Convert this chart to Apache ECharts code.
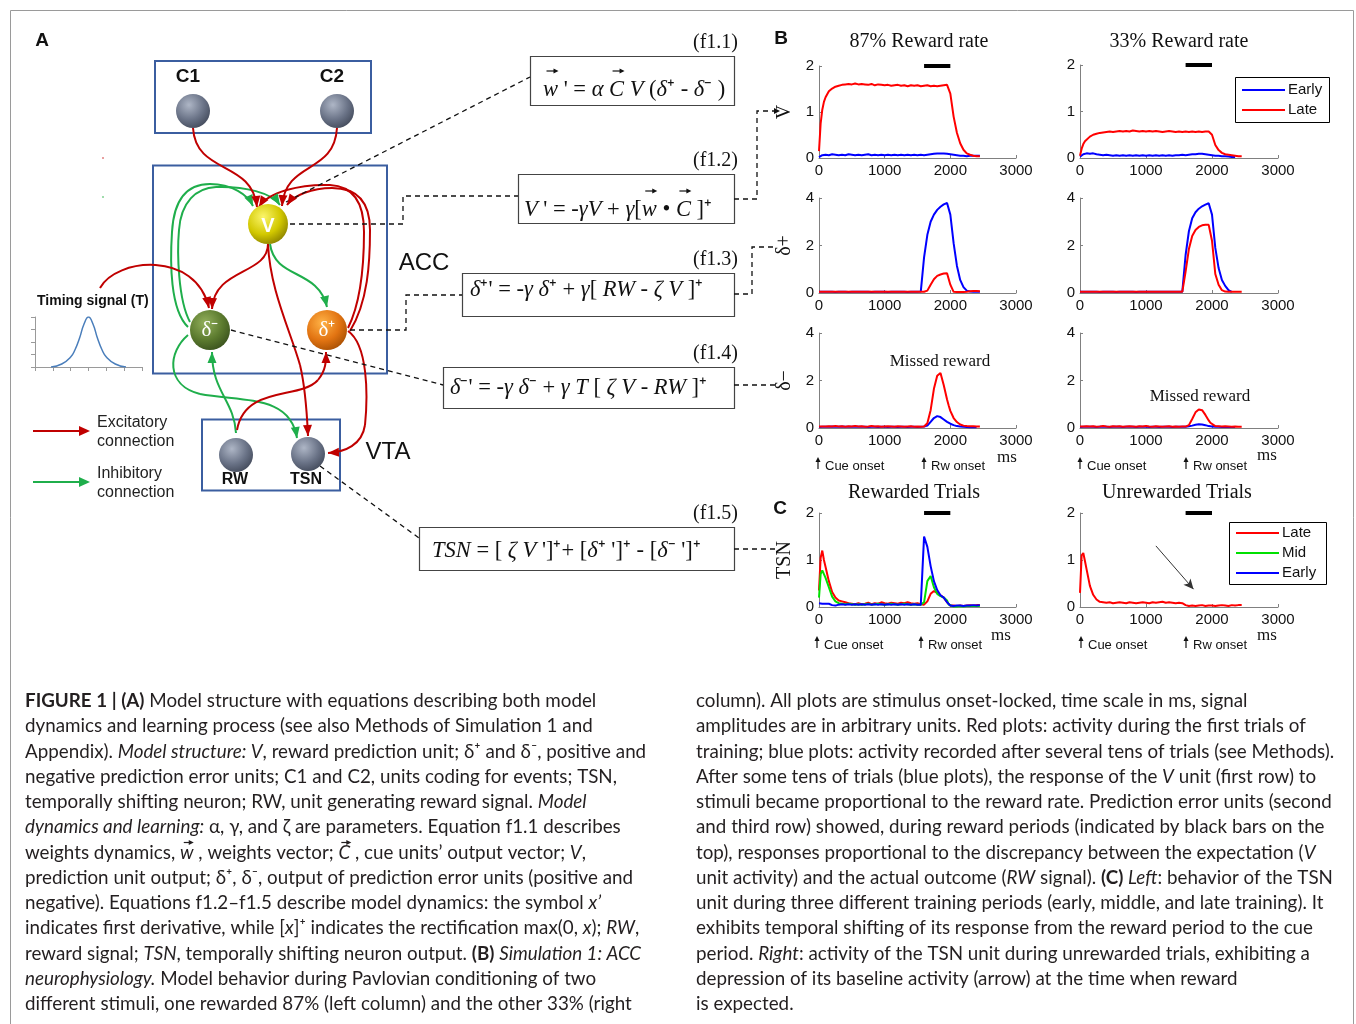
<!DOCTYPE html>
<html><head><meta charset="utf-8">
<script src="https://cdn.jsdelivr.net/npm/echarts@6/dist/echarts.min.js"></script>
<style>html,body{margin:0;padding:0;background:#fff}#c{width:1356px;height:1024px}</style>
</head><body><div id="c"></div>
<script>
// ---------------- DATA ----------------
const TIME = [0,25,50,75,100,
  150,200,250,300,350,400,450,500,550,600,
  650,700,750,800,850,900,950,1000,1050,1100,
  1150,1200,1250,1300,1350,1400,1450,1500,1550,
  1600,1650,1700,1750,1800,1850,1900,1950,1975,
  2000,2050,2100,2150,2200,2250,2300,2350,2400,2450];

const V87_LATE = [0.15,0.75,1.05,1.22,1.32,
  1.45,1.51,1.55,1.57,1.59,1.60,1.61,1.60,1.62,1.60,
  1.61,1.60,1.59,1.61,1.58,1.60,1.59,1.58,1.59,1.57,
  1.58,1.59,1.57,1.58,1.56,1.58,1.57,1.58,1.56,
  1.57,1.58,1.56,1.57,1.56,1.57,1.58,1.59,1.62,
  1.40,0.90,0.55,0.32,0.18,0.10,0.07,0.05,0.04,0.04];
const V87_EARLY = [0.02,0.05,0.06,0.06,0.07,
  0.06,0.08,0.07,0.06,0.07,0.06,0.08,0.07,0.06,0.07,
  0.06,0.07,0.08,0.06,0.07,0.06,0.07,0.06,0.07,0.06,
  0.07,0.06,0.07,0.06,0.07,0.06,0.07,0.06,0.07,
  0.06,0.07,0.08,0.09,0.10,0.10,0.10,0.09,0.09,
  0.08,0.07,0.06,0.05,0.05,0.04,0.05,0.05,0.05,0.05];
const V33_LATE = [0.05,0.20,0.30,0.36,0.40,
  0.46,0.50,0.52,0.54,0.55,0.56,0.57,0.56,0.57,0.58,
  0.57,0.58,0.57,0.59,0.58,0.57,0.58,0.57,0.58,0.57,
  0.58,0.57,0.56,0.57,0.58,0.57,0.56,0.57,0.56,
  0.57,0.56,0.57,0.56,0.57,0.56,0.57,0.57,0.58,
  0.50,0.28,0.17,0.11,0.08,0.07,0.06,0.05,0.04,0.04];
const V33_EARLY = [0.03,0.06,0.08,0.09,0.10,
  0.09,0.10,0.08,0.07,0.06,0.07,0.06,0.05,0.06,0.05,
  0.06,0.05,0.06,0.05,0.06,0.05,0.06,0.05,0.06,0.05,
  0.06,0.05,0.06,0.05,0.06,0.05,0.06,0.06,0.07,
  0.06,0.07,0.08,0.08,0.09,0.09,0.08,0.07,0.07,
  0.06,0.05,0.05,0.04,0.04,0.03,0.02,0.02,null,null];

const DP87_EARLY = [0.05,0.05,0.05,0.05,0.05,
  0.05,0.05,0.04,0.05,0.05,0.05,0.04,0.05,0.05,0.05,
  0.05,0.05,0.05,0.04,0.05,0.05,0.05,0.05,0.04,0.05,
  0.05,0.05,0.05,0.05,0.04,0.05,0.05,0.05,0.06,
  1.50,2.45,3.00,3.30,3.50,3.63,3.73,3.79,3.81,
  3.30,2.10,1.15,0.55,0.25,0.10,0.06,0.05,0.05,0.05];
const DP87_LATE = [0.05,0.05,0.05,0.05,0.05,
  0.05,0.05,0.05,0.05,0.05,0.05,0.05,0.05,0.05,0.05,
  0.05,0.05,0.05,0.05,0.05,0.05,0.05,0.05,0.05,0.05,
  0.05,0.05,0.05,0.05,0.05,0.05,0.05,0.05,0.05,
  0.05,0.10,0.35,0.58,0.72,0.78,0.82,0.83,0.83,
  0.35,0.05,0.04,0.04,0.04,0.05,0.07,0.08,0.08,0.07];
const DP33_EARLY = [0.05,0.05,0.05,0.05,0.05,
  0.05,0.05,0.05,0.04,0.05,0.05,0.05,0.05,0.04,0.05,
  0.05,0.05,0.05,0.05,0.04,0.05,0.05,0.05,0.05,0.05,
  0.05,0.05,0.05,0.05,0.05,0.05,0.05,0.05,0.05,
  1.60,2.60,3.15,3.40,3.55,3.65,3.72,3.78,3.80,
  3.30,1.90,1.05,0.55,0.30,0.12,0.05,null,null,null];
const DP33_LATE = [0.05,0.05,0.05,0.05,0.05,
  0.05,0.05,0.05,0.05,0.05,0.05,0.05,0.05,0.05,0.05,
  0.05,0.05,0.05,0.05,0.05,0.05,0.05,0.05,0.05,0.05,
  0.05,0.05,0.05,0.05,0.05,0.05,0.05,0.05,0.05,
  0.90,1.85,2.40,2.65,2.78,2.85,2.87,2.87,2.85,
  2.20,0.80,0.35,0.12,0.06,0.05,0.05,0.05,0.05,0.05];

const DM87_LATE = [0.06,0.07,0.06,0.08,0.06,
  0.07,0.06,0.08,0.06,0.07,0.05,0.07,0.06,0.08,0.06,
  0.07,0.05,0.06,0.08,0.06,0.07,0.05,0.06,0.07,0.06,
  0.05,0.07,0.06,0.05,0.06,0.07,0.05,0.06,0.05,
  0.06,0.20,0.75,1.65,2.20,2.32,1.80,1.20,0.95,
  0.72,0.42,0.25,0.15,0.10,0.08,0.07,0.07,0.06,0.06];
const DM87_EARLY = [0.04,0.05,0.05,0.05,0.05,
  0.05,0.06,0.05,0.05,0.06,0.05,0.05,0.05,0.06,0.05,
  0.05,0.05,0.04,0.05,0.05,0.04,0.05,0.05,0.04,0.05,
  0.05,0.04,0.05,0.05,0.04,0.05,0.05,0.04,0.05,
  0.06,0.10,0.26,0.42,0.50,0.46,0.36,0.26,0.22,
  0.18,0.12,0.08,0.06,0.05,0.04,0.03,0.03,0.03,null];
const DM33_LATE = [0.06,0.07,0.06,0.05,0.07,
  0.06,0.07,0.05,0.06,0.08,0.06,0.05,0.07,0.06,0.07,
  0.05,0.06,0.07,0.06,0.05,0.07,0.06,0.08,0.06,0.05,
  0.07,0.06,0.05,0.06,0.07,0.05,0.06,0.05,0.06,
  0.06,0.12,0.38,0.66,0.78,0.75,0.55,0.32,0.22,
  0.14,0.08,0.07,0.06,0.07,0.06,0.05,0.06,0.05,0.05];
const DM33_EARLY = [0.04,0.05,0.05,0.05,0.05,
  0.05,0.05,0.04,0.05,0.05,0.05,0.04,0.05,0.05,0.05,
  0.04,0.05,0.05,0.05,0.04,0.05,0.05,0.05,0.04,0.05,
  0.05,0.04,0.05,0.05,0.05,0.04,0.05,0.05,0.05,
  0.05,0.07,0.10,0.14,0.16,0.15,0.12,0.08,0.07,
  0.06,0.05,0.05,0.04,0.04,0.04,0.04,0.04,null,null];

const TSN_REW_LATE = [0.35,1.05,1.20,1.00,0.85,
  0.55,0.32,0.20,0.14,0.12,0.10,0.08,0.07,0.06,0.08,
  0.06,0.07,0.09,0.06,0.08,0.07,0.10,0.08,0.07,0.09,
  0.08,0.07,0.09,0.08,0.10,0.08,0.07,0.08,0.06,
  0.05,0.12,0.28,0.34,0.30,0.25,0.20,0.10,0.06,
  0.03,0.03,0.02,0.03,0.02,0.03,0.04,0.03,0.04,0.04];
const TSN_REW_MID = [0.20,0.70,0.78,0.75,0.62,
  0.42,0.22,0.12,0.08,0.07,0.06,0.07,0.06,0.05,0.06,
  0.05,0.06,0.07,0.05,0.06,0.07,0.06,0.05,0.06,0.07,
  0.06,0.05,0.06,0.07,0.06,0.05,0.06,0.05,0.05,
  0.10,0.55,0.66,0.42,0.28,0.23,0.20,0.14,0.05,
  0.01,0.01,0.01,0.02,0.01,0.02,0.02,0.02,0.02,0.02];
const TSN_REW_EARLY = [0.08,0.08,0.07,0.08,0.07,
  0.07,0.04,0.03,0.05,0.06,0.05,0.06,0.05,0.06,0.05,
  0.06,0.05,0.06,0.05,0.06,0.05,0.06,0.05,0.06,0.05,
  0.06,0.05,0.06,0.05,0.06,0.05,0.06,0.05,0.05,
  1.50,1.28,0.87,0.55,0.36,0.25,0.20,0.10,0.06,
  0.03,0.02,0.03,0.03,0.02,0.03,0.03,0.04,0.03,0.04];
const TSN_UNREW_LATE = [0.30,1.10,1.15,0.98,0.80,
  0.45,0.26,0.16,0.11,0.10,0.09,0.10,0.08,0.09,0.10,
  0.09,0.08,0.10,0.09,0.08,0.09,0.10,0.09,0.08,0.10,
  0.09,0.10,0.11,0.09,0.10,0.09,0.08,0.09,0.08,
  0.04,0.02,0.03,0.02,0.03,0.04,0.02,0.03,0.02,
  0.03,0.02,0.03,0.04,0.03,0.02,0.04,0.03,0.04,0.04];

const REWARD_BAR_X = [1600, 2000];
const X_TICKS = [0, 1000, 2000, 3000];
const ARROW_FROM = [1150, 1.3], ARROW_TO = [1720, 0.38];

const GAUSS_X = [0.9,1.5,2,2.25,2.5,2.75,3,3.25,3.5,3.75,4,4.5,5.1];
const GAUSS_Y = [0,0.06,0.2,0.35,0.58,0.86,1,0.86,0.58,0.35,0.2,0.06,0];

const PLOT_TITLES = ['87% Reward rate','33% Reward rate','Rewarded Trials','Unrewarded Trials'];
const LEGEND_B = ['Early','Late'];
const LEGEND_C = ['Late','Mid','Early'];

// {v|..} = italic letter carrying a vector arrow
const EQUATIONS = [
  "{v|w}{n| ' = }{i|α }{v|C}{i| V }{n|(}{i|δ}{n|⁺ - }{i|δ}{n|⁻ )}",
  "{i|V}{n| ' = -}{i|γV}{n| + }{i|γ}{n|[}{v|w}{n| • }{v|C}{n| ]⁺}",
  "{i|δ}{n|⁺' = -}{i|γ δ}{n|⁺ + }{i|γ}{n|[ }{i|RW}{n| - }{i|ζ V}{n| ]⁺}",
  "{i|δ}{n|⁻' = -}{i|γ δ}{n|⁻ + }{i|γ T}{n| [ }{i|ζ V}{n| - }{i|RW}{n| ]⁺}",
  "{i|TSN}{n| = [ }{i|ζ V}{n| ']⁺+ [}{i|δ}{n|⁺ ']⁺ - [}{i|δ}{n|⁻ ']⁺}"
];
const EQ_LABELS = ['(f1.1)','(f1.2)','(f1.3)','(f1.4)','(f1.5)'];

const CAPTION_LEFT = [
"{b|FIGURE 1 | (A)} Model structure with equations describing both model",
"dynamics and learning process (see also Methods of Simulation 1 and",
"Appendix). {i|Model structure: V}, reward prediction unit; δ⁺ and δ⁻, positive and",
"negative prediction error units; C1 and C2, units coding for events; TSN,",
"temporally shifting neuron; RW, unit generating reward signal. {i|Model}",
"{i|dynamics and learning:} α, γ, and ζ are parameters. Equation f1.1 describes",
"weights dynamics, {v|w} , weights vector; {v|C} , cue units’ output vector; {i|V},",
"prediction unit output; δ⁺, δ⁻, output of prediction error units (positive and",
"negative). Equations f1.2–f1.5 describe model dynamics: the symbol {i|x’}",
"indicates first derivative, while [{i|x}]⁺ indicates the rectification max(0, {i|x}); {i|RW},",
"reward signal; {i|TSN}, temporally shifting neuron output. {b|(B)} {i|Simulation 1: ACC}",
"{i|neurophysiology.} Model behavior during Pavlovian conditioning of two",
"different stimuli, one rewarded 87% (left column) and the other 33% (right"
];
const CAPTION_RIGHT = [
"column). All plots are stimulus onset-locked, time scale in ms, signal",
"amplitudes are in arbitrary units. Red plots: activity during the first trials of",
"training; blue plots: activity recorded after several tens of trials (see Methods).",
"After some tens of trials (blue plots), the response of the {i|V} unit (first row) to",
"stimuli became proportional to the reward rate. Prediction error units (second",
"and third row) showed, during reward periods (indicated by black bars on the",
"top), responses proportional to the discrepancy between the expectation ({i|V}",
"unit activity) and the actual outcome ({i|RW} signal). {b|(C)} {i|Left}: behavior of the TSN",
"unit during three different training periods (early, middle, and late training). It",
"exhibits temporal shifting of its response from the reward period to the cue",
"period. {i|Right}: activity of the TSN unit during unrewarded trials, exhibiting a",
"depression of its baseline activity (arrow) at the time when reward",
"is expected."
];

// ---------------- STYLE ----------------
const SANS = '"Liberation Sans", Arial, sans-serif';
const SERIF = '"Liberation Serif", "Times New Roman", serif';
const CAPF = 'Lato, "Open Sans", sans-serif';
const CAP_SIZE = 18.8, EQ_SIZE = 22.5;
const RED = '#ff0000', BLUE = '#0000ff', GREEN = '#00e000';
const DRED = '#c00000', DGRN = '#1fae4b', BOXBLUE = '#3b5ea0';

const chart = echarts.init(document.getElementById('c'), null, {renderer:'canvas'});

const GRIDS = [
  {left:819, top:66, width:197, height:92},
  {left:1080, top:65, width:198, height:93},
  {left:819, top:198, width:197, height:95},
  {left:1080, top:198, width:198, height:95},
  {left:819, top:333, width:197, height:95},
  {left:1080, top:333, width:198, height:95},
  {left:819, top:513, width:197, height:94},
  {left:1080, top:513, width:198, height:94},
  {left:35, top:317, width:107, height:50}
];
const YMAX = [2,2,4,4,4,4,2,2];
const YINT = [1,1,2,2,2,2,1,1];
const YNAME = ['V','','δ+','','δ−','','TSN',''];

const xAxes = [], yAxes = [];
for (let i = 0; i < 8; i++) {
  xAxes.push({gridIndex:i, type:'value', min:X_TICKS[0], max:X_TICKS[3], interval:1000,
    axisLine:{lineStyle:{color:'#808080', width:1}},
    axisTick:{inside:true, length:3, lineStyle:{color:'#808080'}},
    axisLabel:{color:'#111', fontFamily:SANS, fontSize:15, margin:5, formatter:v => String(v)},
    splitLine:{show:false}});
  yAxes.push({gridIndex:i, type:'value', min:0, max:YMAX[i], interval:YINT[i],
    axisLine:{show:true, lineStyle:{color:'#808080', width:1}},
    axisTick:{show:true, inside:true, length:3, lineStyle:{color:'#808080'}},
    axisLabel:{color:'#111', fontFamily:SANS, fontSize:15, margin:5},
    splitLine:{show:false},
    name:YNAME[i], nameLocation:'middle', nameRotate:90, nameGap:24,
    nameTextStyle:{fontFamily:SERIF, fontSize:20, color:'#111'}});
}
xAxes.push({gridIndex:8, type:'value', min:0, max:6, interval:1,
  axisLine:{lineStyle:{color:'#9a9a9a'}}, axisTick:{length:4, lineStyle:{color:'#9a9a9a'}},
  axisLabel:{show:false}, splitLine:{show:false}});
yAxes.push({gridIndex:8, type:'value', min:0, max:1, interval:0.25,
  axisLine:{show:true, lineStyle:{color:'#9a9a9a'}}, axisTick:{show:true, length:4, lineStyle:{color:'#9a9a9a'}},
  axisLabel:{show:false}, splitLine:{show:false}});

function line(name, gi, arr, color, z) {
  return {name, type:'line', xAxisIndex:gi, yAxisIndex:gi, z:z||2,
    data: TIME.map((t, k) => [t, arr[k]]), showSymbol:false, symbol:'none',
    lineStyle:{color, width:2}, itemStyle:{color}, clip:false};
}
function bar(gi) {
  return {type:'line', xAxisIndex:gi, yAxisIndex:gi, z:3, symbol:'none', clip:false,
    data: REWARD_BAR_X.map(x => [x, YMAX[gi]]), lineStyle:{color:'#000', width:4}};
}
const series = [
  line('Early',0,V87_EARLY,BLUE), line('Late',0,V87_LATE,RED), bar(0),
  line('Early',1,V33_EARLY,BLUE), line('Late',1,V33_LATE,RED), bar(1),
  line('Early',2,DP87_EARLY,BLUE), line('Late',2,DP87_LATE,RED),
  line('Early',3,DP33_EARLY,BLUE), line('Late',3,DP33_LATE,RED),
  line('Early',4,DM87_EARLY,BLUE), line('Late',4,DM87_LATE,RED),
  line('Early',5,DM33_EARLY,BLUE), line('Late',5,DM33_LATE,RED),
  line('Late',6,TSN_REW_LATE,RED), line('Mid',6,TSN_REW_MID,GREEN), line('Early',6,TSN_REW_EARLY,BLUE), bar(6),
  Object.assign(line('Late',7,TSN_UNREW_LATE,RED), {markLine:{silent:true, symbol:['none','arrow'], symbolSize:[7,10],
    label:{show:false}, lineStyle:{color:'#333', width:1, type:'solid'},
    data:[[{coord:ARROW_FROM},{coord:ARROW_TO}]]}}), bar(7),
  {type:'line', xAxisIndex:8, yAxisIndex:8, data:GAUSS_X.map((x,k)=>[x,GAUSS_Y[k]]), symbol:'none',
   smooth:true, lineStyle:{color:'#4a7ebb', width:1.5}}
];

// ---------------- GRAPHICS ----------------
const G = [];
const mctx = document.createElement('canvas').getContext('2d');
function measure(font, s) { mctx.font = font; return mctx.measureText(s).width; }

function T(x, y, text, font, o) {
  o = o || {};
  const st = {text, font, fill:o.color||'#111', align:o.align||'left', verticalAlign:o.va||'middle',
    textAlign:o.align||'left', textVerticalAlign:o.va||'middle'};
  if (o.rich) st.rich = o.rich;
  G.push({type:'text', x, y, rotation:o.rot||0, z:o.z||20, silent:true, style:st});
}
function P(d, color, w, dash, z) {
  const toks = d.match(/[MLC]|-?\d+(\.\d+)?/g);
  let cur = null, i = 0;
  const style = {stroke:color, lineWidth:w||2, fill:'none', lineDash:dash||null};
  while (i < toks.length) {
    const c = toks[i++];
    if (c === 'M') { cur = [+toks[i], +toks[i+1]]; i += 2; }
    else if (c === 'L') {
      const p = [+toks[i], +toks[i+1]]; i += 2;
      G.push({type:'line', z:z||5, silent:true, shape:{x1:cur[0],y1:cur[1],x2:p[0],y2:p[1]}, style});
      cur = p;
    } else if (c === 'C') {
      const a = toks.slice(i, i+6).map(Number); i += 6;
      G.push({type:'bezierCurve', z:z||5, silent:true,
        shape:{x1:cur[0],y1:cur[1],cpx1:a[0],cpy1:a[1],cpx2:a[2],cpy2:a[3],x2:a[4],y2:a[5]}, style});
      cur = [a[4], a[5]];
    }
  }
}
function head(ex, ey, cx, cy, color, L, W, z) {
  L = L||11; W = W||9;
  let dx = ex-cx, dy = ey-cy; const n = Math.hypot(dx,dy); dx/=n; dy/=n;
  const bx = ex-dx*L, by = ey-dy*L, px = -dy*W/2, py = dx*W/2;
  G.push({type:'polygon', z:z||6, silent:true, shape:{points:[[ex,ey],[bx+px,by+py],[bx-px,by-py]]}, style:{fill:color}});
}
function arrowPath(d, color) {
  P(d, color, 2);
  const n = d.match(/-?\d+(\.\d+)?/g).map(Number);
  const L = n.length;
  head(n[L-2], n[L-1], n[L-4], n[L-3], color);
}
function rect(x,y,w,h,stroke,lw,z,fill){
  G.push({type:'rect', z:z||4, silent:true, shape:{x,y,width:w,height:h}, style:{stroke, lineWidth:lw||1, fill:fill||'none'}});
}
function sphere(cx, cy, r, c0, c1, c2) {
  G.push({type:'circle', z:8, silent:true, shape:{cx,cy,r},
    style:{fill:new echarts.graphic.RadialGradient(0.38, 0.32, 0.8, [{offset:0,color:c0},{offset:0.55,color:c1},{offset:1,color:c2}])}});
}
function dashed(pts, z) {
  G.push({type:'polyline', z:z||5, silent:true, shape:{points:pts}, style:{stroke:'#111', lineWidth:1.3, lineDash:[5,4], fill:'none'}});
}
// rich text with vector arrows over {v|..} tokens
function richLine(x, y, str, fonts, color, arrowDy, arrowW) {
  const rich = {};
  Object.keys(fonts).forEach(k => rich[k] = {font:fonts[k], fill:color, color});
  T(x, y, str, fonts.n, {rich, color});
  const re = /\{(\w+)\|([^}]*)\}/g; let last = 0, cx = x, m;
  const adv = (style, s) => { cx += measure(fonts[style], s); };
  while ((m = re.exec(str))) {
    if (m.index > last) adv('n', str.slice(last, m.index));
    if (m[1] === 'v') {
      const w = measure(fonts.v, m[2]);
      const ax = cx + w/2 + 1.5, ay = y + arrowDy;
      G.push({type:'line', z:21, silent:true, shape:{x1:ax-arrowW/2, y1:ay, x2:ax+arrowW/2-2, y2:ay}, style:{stroke:color, lineWidth:1.2}});
      head(ax+arrowW/2+1, ay, ax, ay, color, 5, 5, 21);
    }
    adv(m[1], m[2]);
    last = re.lastIndex;
  }
}

// frame
rect(10.5, 10.5, 1343, 1040, '#9a9a9a', 1, 1);

// Panel A boxes
rect(155, 61, 216, 72, BOXBLUE, 2);
rect(153, 165.5, 234, 208, BOXBLUE, 2);
rect(202, 419.5, 138, 71, BOXBLUE, 2);

// connections
const RED_CURVES = [
  'M193,128 C196,175 252,160 257,207',
  'M337,128 C334,175 286,160 282,206',
  'M348,328 C362,300 364,262 364,232 C364,198 350,186 330,185 C300,184 268,192 259,207',
  'M350,331 C368,302 370,262 370,230 C370,198 354,188 332,188 C312,188 294,195 287,205',
  'M268,244 C268,275 214,268 212,309',
  'M100,288 C116,258 196,250 209,308',
  'M268,244 C270,290 290,330 300,365 C306,390 307,415 308,436',
  'M237,430 C245,385 300,400 318,380 C326,370 326,362 326,352',
  'M348,331 C368,345 368,395 365,425 C362,445 345,452 328,453'
];
const GREEN_CURVES = [
  'M188,327 C170,310 170,262 172,232 C174,196 190,184 210,184 C232,184 248,195 253,206',
  'M190,322 C178,300 177,252 179,230 C181,202 196,188 216,187 C245,186 272,193 280,205',
  'M270,244 C275,280 318,268 327,307',
  'M236,433 C234,400 212,392 212,352',
  'M188,335 C168,352 165,385 200,394 C245,402 290,395 297,438'
];
GREEN_CURVES.forEach(d => arrowPath(d, DGRN));
RED_CURVES.forEach(d => arrowPath(d, DRED));

// spheres
const GRAY = ['#aeb6c6','#6a7387','#3b4252'];
sphere(193,111,17,...GRAY); sphere(337,111,17,...GRAY);
sphere(236,455,17,...GRAY); sphere(308,454,17,...GRAY);
sphere(268,224,20,'#fbf56a','#d2c800','#7c7300');
sphere(210,330,20,'#93b05c','#5b7a2e','#33491a');
sphere(327,330,20,'#ffb347','#e27412','#9c4800');

T(268,226,'V','bold 20px '+SANS,{align:'center',color:'#fff'});
T(210,330,'δ⁻','21px '+SERIF,{align:'center',color:'#fff'});
T(327,330,'δ⁺','21px '+SERIF,{align:'center',color:'#fff'});
T(188,77,'C1','bold 19px '+SANS,{align:'center'});
T(332,77,'C2','bold 19px '+SANS,{align:'center'});
T(235,480,'RW','bold 16px '+SANS,{align:'center'});
T(306,480,'TSN','bold 16px '+SANS,{align:'center'});
T(424,263,'ACC','24px '+SANS,{align:'center'});
T(388,452,'VTA','24px '+SANS,{align:'center'});
T(42,41,'A','bold 19px '+SANS,{align:'center'});
T(781,39,'B','bold 19px '+SANS,{align:'center'});
T(780,509,'C','bold 19px '+SANS,{align:'center'});
T(37,301,'Timing signal (T)','bold 14px '+SANS);

// stray dots
G.push({type:'circle', shape:{cx:103,cy:158,r:1}, style:{fill:'#e08080'}, silent:true});
G.push({type:'circle', shape:{cx:103,cy:197,r:1}, style:{fill:'#80d090'}, silent:true});

// connection legend
P('M33,431 L80,431', DRED, 2); head(90,431,80,431,DRED,11,10);
P('M33,482 L80,482', DGRN, 2); head(90,482,80,482,DGRN,11,10);
T(97,423,'Excitatory','16px '+SANS,{color:'#222'});
T(97,442,'connection','16px '+SANS,{color:'#222'});
T(97,474,'Inhibitory','16px '+SANS,{color:'#222'});
T(97,493,'connection','16px '+SANS,{color:'#222'});

// equation boxes
const EQ_BOX = [[530,56,204,49],[518,174,216,49],[462,273,272,43],[443,367,291,41],[419,527,315,43]];
const EQ_POS = [[543,90],[524,210],[470,290],[450,388],[432,551]];
const EQ_FONTS = {n:EQ_SIZE+'px '+SERIF, i:'italic '+EQ_SIZE+'px '+SERIF, v:'italic '+EQ_SIZE+'px '+SERIF};
EQ_BOX.forEach((b,k) => {
  rect(b[0]+0.5,b[1]+0.5,b[2],b[3],'#444',1.2,4,'#fff');
  T(b[0]+b[2]+4, b[1]-13, EQ_LABELS[k], '20px '+SERIF, {align:'right'});
  richLine(EQ_POS[k][0], EQ_POS[k][1], EQUATIONS[k], EQ_FONTS, '#111', -19, 11);
});

// dashed links
dashed([[286,202],[530,77]]);
dashed([[290,224],[403,224],[403,196],[518,196]]);
dashed([[350,330],[406,330],[406,295],[462,295]]);
dashed([[231,330],[443,385]]);
dashed([[320,466],[419,538]]);
dashed([[734,199],[757,199],[757,111],[775,111]]); head(780,111,774,111,'#111',6,6);
dashed([[734,294],[752,294],[752,247],[776,247]]);
dashed([[734,385],[778,385]]);
dashed([[734,549],[775,549]]);

// plot titles & texts
T(919,42,PLOT_TITLES[0],'20px '+SERIF,{align:'center'});
T(1179,42,PLOT_TITLES[1],'20px '+SERIF,{align:'center'});
T(914,493,PLOT_TITLES[2],'20px '+SERIF,{align:'center'});
T(1177,493,PLOT_TITLES[3],'20px '+SERIF,{align:'center'});
T(940,362,'Missed reward','17px '+SERIF,{align:'center'});
T(1200,397,'Missed reward','17px '+SERIF,{align:'center'});

// onset markers
function onset(x, yb, label) {
  P('M'+x+','+(yb)+' L'+x+','+(yb-8), '#111', 1.2, null, 10); head(x, yb-12, x, yb-6, '#111', 5, 5, 10);
  T(x+7, yb-3, label, '13px '+SANS);
}
[[818,469],[1080,469],[817,648],[1081,648]].forEach(p => onset(p[0],p[1],'Cue onset'));
[[924,469],[1186,469],[921,648],[1186,648]].forEach(p => onset(p[0],p[1],'Rw onset'));
T(997,458,'ms','17px '+SERIF); T(1257,456,'ms','17px '+SERIF);
T(991,636,'ms','17px '+SERIF); T(1257,636,'ms','17px '+SERIF);

// plot legends
function legendBox(x, y, w, h, names, colors, y0, dy) {
  rect(x+0.5, y+0.5, w, h, '#000', 1, 30, '#fff');
  names.forEach((n,k) => {
    const yy = y0 + k*dy;
    G.push({type:'line', z:31, silent:true, shape:{x1:x+7,y1:yy,x2:x+50,y2:yy}, style:{stroke:colors[k], lineWidth:2}});
    T(x+53, yy, n, '15px '+SANS, {z:31});
  });
}
legendBox(1235,77,94,45,LEGEND_B,[BLUE,RED],90,20);
legendBox(1229,522,97,62,LEGEND_C,[RED,GREEN,BLUE],533,20);

// caption
const CAP_FONTS = {n:CAP_SIZE+'px '+CAPF, b:'bold '+CAP_SIZE+'px '+CAPF,
                   i:'italic '+CAP_SIZE+'px '+CAPF, v:'italic '+CAP_SIZE+'px '+CAPF};
CAPTION_LEFT.forEach((s,k) => richLine(25, 701 + k*25.25, s, CAP_FONTS, '#231f20', -10, 9));
CAPTION_RIGHT.forEach((s,k) => richLine(696, 701 + k*25.25, s, CAP_FONTS, '#231f20', -10, 9));

chart.setOption({
  animation:false,
  backgroundColor:'#fff',
  grid: GRIDS.map(g => Object.assign({containLabel:false}, g)),
  xAxis: xAxes, yAxis: yAxes, series,
  graphic: {elements: G}
});
</script>
</body></html>
